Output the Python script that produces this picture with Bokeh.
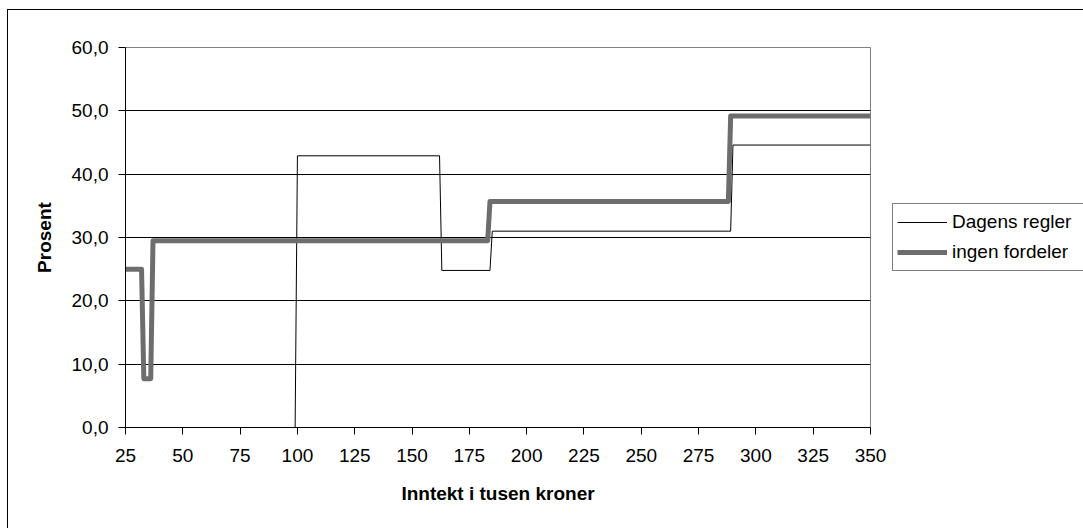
from bokeh.plotting import figure
from bokeh.models import Range1d, FixedTicker, Legend, LegendItem
from bokeh.embed import file_html
from bokeh.resources import INLINE

# Data
income_dagens = [25, 99, 100, 162, 163, 184, 185, 289, 290, 350]
pct_dagens = [0.0, 0.0, 42.9, 42.9, 24.8, 24.8, 31.0, 31.0, 44.6, 44.6]
income_ingen = [25, 32, 33, 36, 37, 183, 184, 288, 289, 350]
pct_ingen = [25.0, 25.0, 7.7, 7.7, 29.5, 29.5, 35.7, 35.7, 49.2, 49.2]

x_ticks = [25, 50, 75, 100, 125, 150, 175, 200, 225, 250, 275, 300, 325, 350]
y_ticks = [0, 10, 20, 30, 40, 50, 60]
y_tick_labels = ["0,0", "10,0", "20,0", "30,0", "40,0", "50,0", "60,0"]
series_names = ["Dagens regler", "ingen fordeler"]
x_title = "Inntekt i tusen kroner"
y_title = "Prosent"

FONT = "Liberation Sans"

p = figure(width=1083, height=528, output_backend="svg", toolbar_location=None,
           x_range=Range1d(x_ticks[0], x_ticks[-1]), y_range=Range1d(y_ticks[0], y_ticks[-1]),
           min_border_left=125, min_border_right=213, min_border_top=47, min_border_bottom=101)
p.frame_width = 745
p.frame_height = 380
# outer chart-area border (left and top sides are inside the window)
p.styles = {"background": "linear-gradient(#000, #000) 7px 9px / 1px 700px no-repeat, "
                          "linear-gradient(#000, #000) 7px 9px / 1200px 1px no-repeat, #fff",
            "overflow": "hidden"}

p.background_fill_color = "white"
p.border_fill_alpha = 0
p.outline_line_color = "#808080"
p.outline_line_width = 1

# grid
p.xgrid.visible = False
p.ygrid.ticker = FixedTicker(ticks=y_ticks)
p.ygrid.grid_line_color = "black"
p.ygrid.grid_line_width = 1

# axes
for ax in (p.xaxis[0], p.yaxis[0]):
    ax.axis_line_color = "black"
    ax.major_tick_line_color = "black"
    ax.major_tick_in = 0
    ax.major_tick_out = 7
    ax.minor_tick_line_color = None
    ax.major_label_text_font = FONT
    ax.major_label_text_font_size = "19px"
    ax.major_label_text_color = "black"
    ax.axis_label_text_font = FONT
    ax.axis_label_text_font_size = "19px"
    ax.axis_label_text_font_style = "bold"
    ax.axis_label_text_color = "black"

p.xaxis.ticker = FixedTicker(ticks=x_ticks)
p.xaxis.major_label_standoff = 14
p.xaxis.axis_label = x_title
p.xaxis.axis_label_standoff = 18

p.yaxis.ticker = FixedTicker(ticks=y_ticks)
p.yaxis.major_label_overrides = {t: lab for t, lab in zip(y_ticks, y_tick_labels)}
p.yaxis.major_label_standoff = 10
p.yaxis.axis_label = y_title
p.yaxis.axis_label_standoff = 14

r1 = p.line(income_dagens, pct_dagens, line_color="black", line_width=1)
r2 = p.line(income_ingen, pct_ingen, line_color="#6d6d6d", line_width=5, line_join="round")

legend = Legend(items=[LegendItem(label=series_names[0], renderers=[r1]),
                       LegendItem(label=series_names[1], renderers=[r2])],
                location=(22, 156))
legend.border_line_color = "black"
legend.border_line_width = 1
legend.background_fill_color = "white"
legend.background_fill_alpha = 1
legend.label_text_font = FONT
legend.label_text_font_size = "19px"
legend.label_text_color = "black"
legend.glyph_width = 50
legend.glyph_height = 28
legend.label_height = 28
legend.label_width = 140
legend.label_standoff = 5
legend.padding = 4
legend.spacing = 2
legend.margin = 0
p.add_layout(legend, "right")

open("out.html", "w").write(file_html(p, INLINE))
